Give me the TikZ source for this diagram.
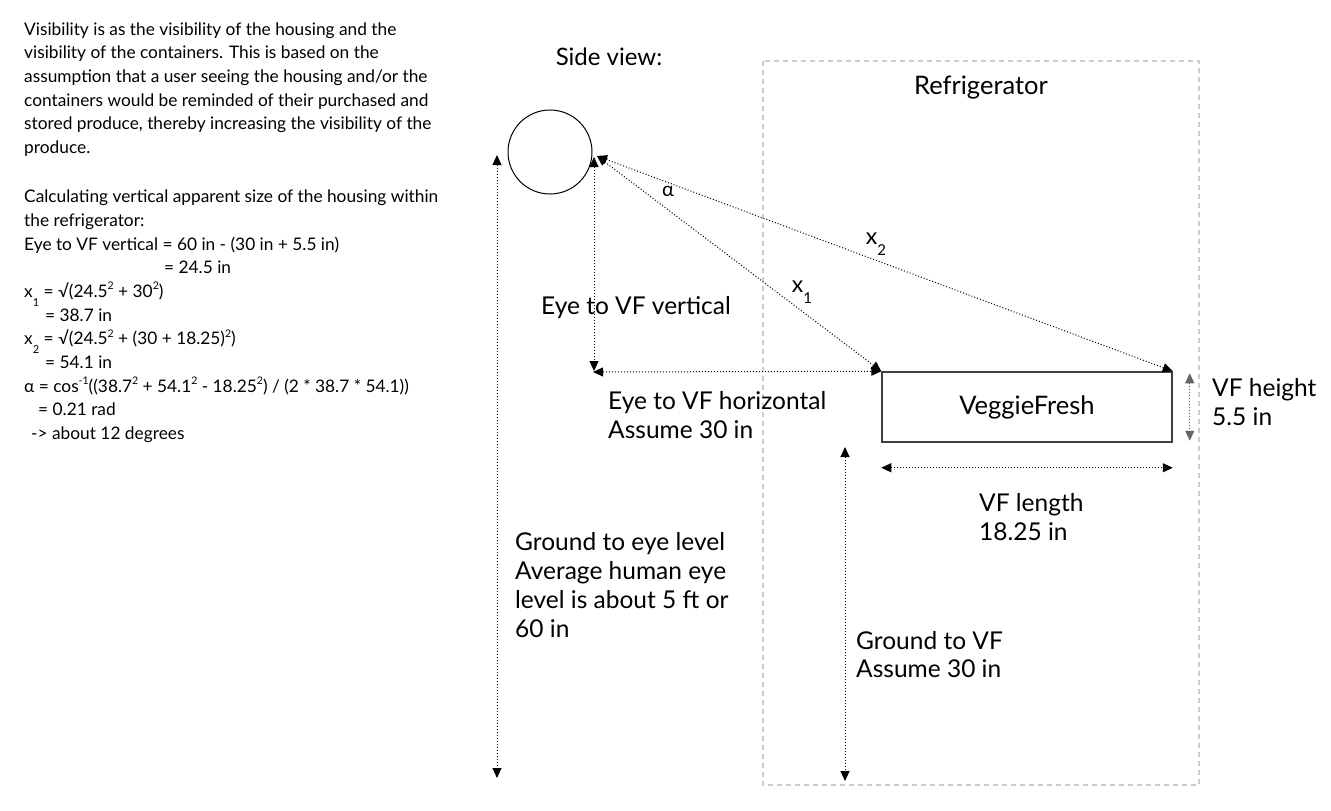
\documentclass[tikz,border=0pt]{standalone}
\usepackage{fontspec}
\setmainfont{Lato}
\usetikzlibrary{arrows.meta}
\newcommand{\lowsub}[1]{\raisebox{-0.5em}{\fontsize{11}{11}\selectfont #1}}
\newcommand{\hisup}[1]{\raisebox{0.45em}{\fontsize{10.5}{11}\selectfont #1}}
\newcommand{\bigsub}[1]{\raisebox{-11pt}{\fontsize{15}{15}\selectfont #1}}
\begin{document}
\begin{tikzpicture}[x=1pt, y=-1pt,
	  note/.style={anchor=north west, align=left, inner sep=0pt, font=\fontsize{17.3}{23.7}\selectfont},
	  label/.style={anchor=north west, align=left, inner sep=0pt, font=\fontsize{24.5}{28.7}\selectfont},
	  dim/.style={dash pattern=on 1pt off 2pt, line width=1pt, {Triangle[length=10pt,width=9pt]}-{Triangle[length=10pt,width=9pt]}}]
	  \useasboundingbox (0,0) rectangle (1331,811);
	  % notes on the left
	  \node[note] (intro) at (24,18.4) {\strut Visibility is as the visibility of the housing and the\\
	    visibility of the containers. This is based on the\\
	    assumption that a user seeing the housing and/or the\\
	    containers would be reminded of their purchased and\\
	    stored produce, thereby increasing the visibility of the\\
	    produce.};
	  \node[note] (calc) at (24,185.9) {\strut Calculating vertical apparent size of the housing within\\
	    the refrigerator:\\
	    Eye to VF vertical = 60 in - (30 in + 5.5 in)\\
	    \hspace*{140pt}= 24.5 in\\
	    x\lowsub{1} = √(24.5\hisup{2} + 30\hisup{2})\\
	    \hspace*{21pt}= 38.7 in\\
	    x\lowsub{2} = √(24.5\hisup{2} + (30 + 18.25)\hisup{2})\\
	    \hspace*{21pt}= 54.1 in\\
	    α = cos\hisup{-1}((38.7\hisup{2} + 54.1\hisup{2} - 18.25\hisup{2}) / (2 * 38.7 * 54.1))\\
	    \hspace*{14pt}= 0.21 rad\\
	    \hspace*{7pt}-> about 12 degrees};
	  % side view
	  \node[font=\fontsize{24}{28}\selectfont] (side) at (609,57) {Side view:};
	  \draw[draw=black!20, line width=1.3pt, dash pattern=on 5pt off 4pt] (763,61) rectangle (1199,785);
	  \node[font=\fontsize{25.5}{28}\selectfont] (fridge) at (981,88) {Refrigerator};
	  \node[draw, circle, minimum size=84pt, line width=1pt] (eye) at (550,152) {};
	  \node[draw=black!75, line width=1.5pt, minimum width=290pt, minimum height=70pt,
	    font=\fontsize{25.5}{28}\selectfont] (vf) at (1027,407) {VeggieFresh};
	  \coordinate (sight) at (597,156);
	  \coordinate (vtop) at (594,157);
	  \coordinate (vbot) at (594,371);
	  \coordinate (htail) at (593,372);
	  \draw[dim] (sight) -- (vf.north west);
	  \draw[dim] (sight) -- (vf.north east);
	  \draw[dim] (vtop) -- (vbot);
	  \draw[dim] (htail) -- (vf.north west);
	  \draw[dim] ([yshift=-25pt]vf.south west) -- ([yshift=-25pt]vf.south east);
	  \draw[dim, draw=black!60, fill=black!60] ([shift={(17pt,-2pt)}]vf.north east) -- ([shift={(17pt,2pt)}]vf.south east);
	  \coordinate (eyelevel) at (497,155);
	  \coordinate (ground1) at (497,778);
	  \draw[dim] (eyelevel) -- (ground1);
	  \coordinate (vflevel) at (845,447);
	  \coordinate (ground2) at (845,781);
	  \draw[dim] (vflevel) -- (ground2);
	  % labels
	  \node[font=\fontsize{20}{22}\selectfont] (alpha) at (668,191) {α};
	  \node[font=\fontsize{23}{26}\selectfont, inner sep=0pt] (xtwo) at (876,244) {x\bigsub{2}};
	  \node[font=\fontsize{23}{26}\selectfont, inner sep=0pt] (xone) at (802,292) {x\bigsub{1}};
	  \node[label] (vert) at (541,293.9) {\strut Eye to VF vertical};
	  \node[label] (horiz) at (608,389.5) {\strut Eye to VF horizontal\\Assume 30 in};
	  \node[label] (height) at (1212,376.7) {\strut VF height\\5.5 in};
	  \node[label] (length) at (979,491.7) {\strut VF length\\18.25 in};
	  \node[label] (eyeground) at (515,530.7) {\strut Ground to eye level\\Average human eye\\level is about 5 ft or\\60 in};
	  \node[label] (vfground) at (856,628.9) {\strut Ground to VF\\Assume 30 in};
	\end{tikzpicture}
\end{document}
